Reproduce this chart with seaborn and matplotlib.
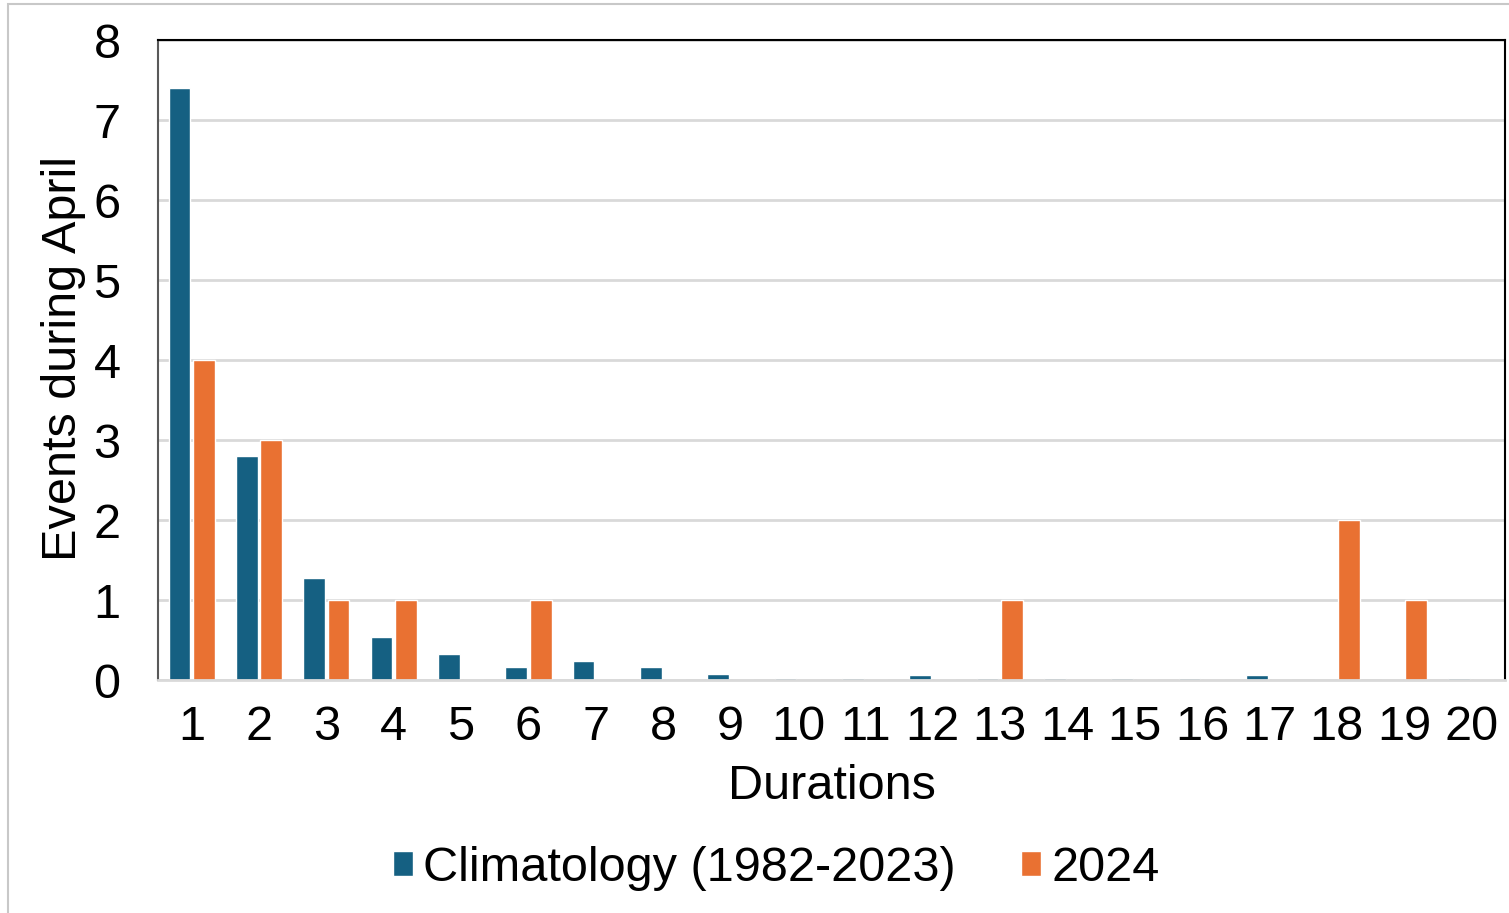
import matplotlib
matplotlib.use("Agg")
import matplotlib.pyplot as plt
from matplotlib.patches import Rectangle
import seaborn as sns
import pandas as pd

durations = [str(d) for d in range(1, 21)]
climatology = [7.4, 2.8, 1.27, 0.54, 0.33, 0.16, 0.24, 0.16, 0.08, 0.02,
               0.02, 0.06, 0.02, 0.02, 0.02, 0.02, 0.06, 0.0, 0.0, 0.02]
year_2024 = [4, 3, 1, 1, 0, 1, 0, 0, 0, 0,
             0, 0, 1, 0, 0, 0, 0, 2, 1, 0]
series_names = ["Climatology (1982-2023)", "2024"]
colors = ["#156082", "#E97132"]

df = pd.DataFrame({
    "Durations": durations * 2,
    "Series": [series_names[0]] * len(durations) + [series_names[1]] * len(durations),
    "Events": climatology + year_2024,
})

sns.set_theme(style="white")
plt.rcParams["font.family"] = ["Liberation Sans", "DejaVu Sans"]
plt.rcParams["text.color"] = "black"
plt.rcParams["axes.labelcolor"] = "black"
plt.rcParams["xtick.color"] = "black"
plt.rcParams["ytick.color"] = "black"

FS = 35

fig = plt.figure(figsize=(15.09, 9.13), dpi=100)
ax = fig.add_axes([158 / 1509, 1 - 680 / 913, (1505 - 158) / 1509, (680 - 40) / 913])

sns.barplot(data=df, x="Durations", y="Events", hue="Series", order=durations,
            hue_order=series_names, palette=colors, width=0.73, gap=0.12,
            saturation=1, ax=ax, legend=True)

ax.set_ylim(0, 8)
ax.set_xlim(-0.5, 19.5)
ax.set_yticks(range(0, 9))
ax.yaxis.grid(True, color="#d9d9d9", linewidth=2)
ax.set_axisbelow(True)

ax.tick_params(axis="y", length=0, pad=27, labelsize=FS)
ax.tick_params(axis="x", length=0, pad=18, labelsize=FS)
ax.set_xlabel("Durations", fontsize=FS, labelpad=10)
ax.set_ylabel("Events during April", fontsize=FS)
ax.yaxis.set_label_coords(-0.0534, 0.503)

for side in ["top", "right"]:
    ax.spines[side].set_color("black")
    ax.spines[side].set_linewidth(1.5)
ax.spines["left"].set_color("#595959")
ax.spines["left"].set_linewidth(1.5)
ax.spines["bottom"].set_color("#d9d9d9")
ax.spines["bottom"].set_linewidth(2)

handles, labels = ax.get_legend_handles_labels()
ax.get_legend().remove()
fig.legend(handles, labels, loc="center", bbox_to_anchor=(776 / 1509, 1 - 868 / 913),
           ncol=2, frameon=False, fontsize=FS, handlelength=0.42, handleheight=0.42,
           handletextpad=0.2, columnspacing=1.35)

# thin light border around the chart area
fig.add_artist(Rectangle((8 / 1509, -0.05), 1.2, 1.05 - 4 / 913,
                         transform=fig.transFigure, fill=False,
                         edgecolor="#c8c8c8", linewidth=1.5))

fig.savefig("out.png", dpi=100)
